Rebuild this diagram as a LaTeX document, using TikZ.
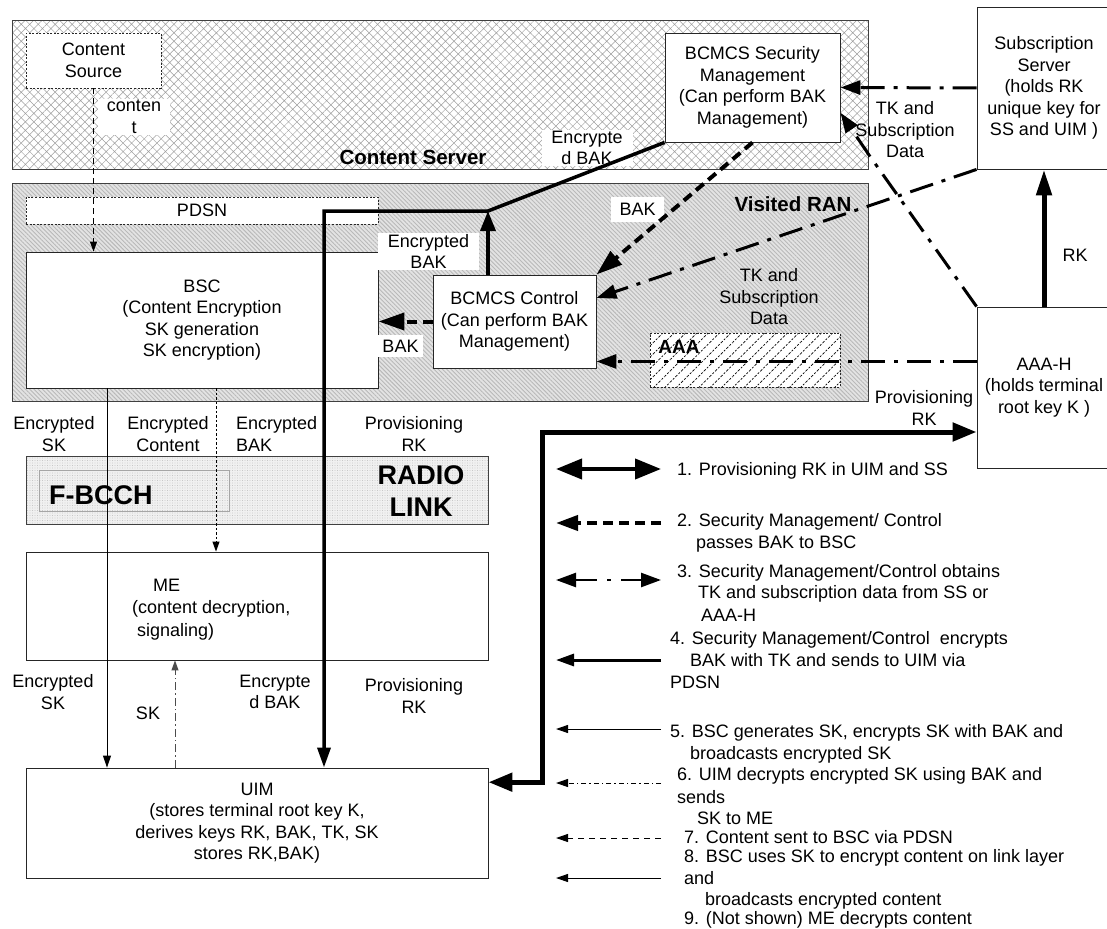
\documentclass[tikz,border=0pt]{standalone}
\usepackage{fontspec}
\setmainfont{Liberation Sans}
\usetikzlibrary{arrows.meta,patterns.meta}
\begin{document}
\begin{tikzpicture}[x=1pt,y=-1pt,
  every node/.style={font=\fontsize{18}{21.5}\selectfont, inner sep=0pt, align=center},
  box/.style={draw=black!85, line width=0.9pt, fill=white},
  dotbox/.style={box, dash pattern=on 2pt off 1.6pt},
  wl/.style={fill=white, inner sep=1pt},
  grp/.style={font=\fontsize{20.5}{24}\selectfont\bfseries},
  bigl/.style={font=\fontsize{27}{32}\selectfont\bfseries},
  lg/.style={anchor=base west, align=left},
  csfill/.style={draw=black!75, line width=1pt, preaction={fill=white},
     preaction={pattern={Hatch[angle=45,distance=6pt,line width=0.5pt]}, pattern color=gray!75}},
  vrfill/.style={draw=black!75, line width=1pt, preaction={fill=gray!22},
     preaction={pattern={Lines[angle=-45,distance=3pt,line width=0.9pt]}, pattern color=gray!55}},
  rlfill/.style={draw=black!75, line width=0.9pt, preaction={fill=gray!12},
     preaction={pattern={Dots[distance=2.5pt,radius=0.45pt]}, pattern color=gray!60}},
  aaafill/.style={draw=black!85, line width=0.9pt, dash pattern=on 2pt off 1.6pt, preaction={fill=white},
     preaction={pattern={Lines[angle=45,distance=8pt,line width=0.7pt]}, pattern color=black}},
  encbak/.style={line width=3.5pt},
  bakd/.style={line width=4pt, dash pattern=on 10pt off 6pt},
  tkdd/.style={line width=3pt, dash pattern=on 24pt off 9pt on 4pt off 9pt},
  prov/.style={line width=5pt},
  thinl/.style={line width=1pt},
  cdash/.style={line width=0.9pt, dash pattern=on 6pt off 4pt},
  cdot/.style={line width=0.9pt, dash pattern=on 2.5pt off 2pt},
  skdd/.style={line width=1pt, draw=black!70, dash pattern=on 8pt off 3pt on 1.5pt off 3pt},
  tbig/.style={-{Triangle[length=24pt,width=18pt]}},
  tmed/.style={-{Triangle[length=20pt,width=14pt]}},
  tsm/.style={-{Triangle[length=12pt,width=8pt]}},
]
\useasboundingbox (0,0) rectangle (1107,928);
\clip (0,0) rectangle (1107,928);
\fill[white] (0,0) rectangle (1107,928);

% ---------- Content Server ----------
\node[csfill, minimum width=856pt, minimum height=149pt] (cs) at (440,95.5) {};
\node[dotbox, minimum width=135pt, minimum height=55pt] (src) at (93.5,60.5) {Content\\Source};
\node[wl, minimum width=72pt] (lcontent) at (134,117) {conten\\t};
\node[grp] (lcs) at (413,157) {Content Server};
\node[box, minimum width=175pt, minimum height=109pt] (sm) at (752.5,87.5) {BCMCS Security\\Management\\(Can perform BAK\\Management)};
\node[box, minimum width=134pt, minimum height=162pt] (ss) at (1044,88) {Subscription\\Server\\(holds RK\\unique key for\\SS and UIM )};
\node[wl, minimum width=91pt] (lencbak1) at (587,148) {Encrypte\\d BAK};
\node (ltk1) at (905,130) {TK and\\Subscription\\Data};

% ---------- Visited RAN ----------
\node[vrfill, minimum width=856pt, minimum height=218pt] (vr) at (440,292) {};
\node[grp] (lvr) at (793,204) {Visited RAN};
\node[dotbox, minimum width=352pt, minimum height=27pt] (pdsn) at (202,210.5) {PDSN};
\node[box, minimum width=352pt, minimum height=136pt] (bsc) at (202,320) {BSC\\(Content Encryption\\SK generation\\SK encryption)};
\node[wl, minimum width=101pt, minimum height=37pt] (lencbak2) at (428.5,251.5) {Encrypted\\BAK};
\node[box, minimum width=163pt, minimum height=93pt] (ctl) at (514.5,321.5) {BCMCS Control\\(Can perform BAK\\Management)};
\node[wl, minimum width=45pt, minimum height=22pt] (lbak1) at (400.5,346) {BAK};
\node[wl, minimum width=53pt, minimum height=25pt] (lbak2) at (637.5,209.5) {BAK};
\node (ltk2) at (769,297) {TK and\\Subscription\\Data};
\node[aaafill, minimum width=190pt, minimum height=54pt] (aaa) at (745,360) {};
\node[font=\fontsize{19}{22}\selectfont\bfseries] (laaa) at (679,347) {AAA};

% ---------- right side ----------
\node[box, minimum width=134pt, minimum height=161pt] (aaah) at (1044,387.5) {AAA-H\\(holds terminal\\root key K )};
\node (lrk) at (1075,255) {RK};
\node (lprov1) at (924,408) {Provisioning\\RK};

% ---------- radio link / terminal ----------
\node (lesk1) at (54,434) {Encrypted\\SK};
\node (lecon) at (168,434) {Encrypted\\Content};
\node[align=left, anchor=west] (lebak) at (236,434) {Encrypted\\BAK};
\node (lprov2) at (414,434) {Provisioning\\RK};
\node[rlfill, minimum width=462pt, minimum height=68pt] (radio) at (257,490) {};
\node[draw=gray!70, line width=0.8pt, minimum width=190pt, minimum height=41pt] (fbcch) at (134,490.5) {};
\node[bigl, anchor=west] (lfb) at (49,495) {F-BCCH};
\node[bigl] (lradio) at (421,491) {RADIO\\LINK};
\node[box, minimum width=462pt, minimum height=108pt] (me) at (257,606) {};
\node[align=left, anchor=north west, font=\fontsize{18}{22.5}\selectfont] (lme) at (132,578.5) {\hspace*{21pt}ME\\(content decryption,\\\hspace*{5pt}signaling)};
\node (lesk2) at (53,692) {Encrypted\\SK};
\node (lsk) at (148,713) {SK};
\node (lencbak3) at (275,692) {Encrypte\\d BAK};
\node (lprov3) at (414,696) {Provisioning\\RK};
\node[box, minimum width=462pt, minimum height=110pt] (uim) at (257,823) {UIM\\(stores terminal root key K,\\derives keys RK, BAK, TK, SK\\stores RK,BAK)};

% ---------- helper coordinates ----------
\coordinate (J) at (488,211);
\coordinate (Jl) at (324,211);
\coordinate (bendA) at (869,155);
\coordinate (PV) at (542,432);
\coordinate (xSK) at (107,0);
\coordinate (xEC) at (216,0);
\coordinate (xSKup) at (175,0);

% ---------- connectors ----------
\draw[cdash, -{Triangle[length=10pt,width=7pt]}] (src.south) -- (src.south |- bsc.north);
\draw[encbak, -{Triangle[length=20pt,width=13pt]}] (sm.south west) -- (J) -- (Jl) -- (Jl |- uim.north);
\draw[encbak, -{Triangle[length=20pt,width=15pt]}] (ctl.north -| J) -- (J);
\draw[bakd, -{Triangle[length=26pt,width=17pt]}] (ctl.west) -- (ctl.west -| bsc.east);
\draw[bakd, -{Triangle[length=26pt,width=17pt]}] (sm.south) -- (ctl.north east);
\draw[tkdd, tmed] (ss.west) -- (sm.east);
\draw[tkdd, tmed] (ss.south west) -- (ctl.16);
\draw[tkdd, tmed] (aaah.north west) -- (bendA) -- (sm.-16);
\draw[tkdd, tmed] (ctl.-26 -| aaah.west) -- (ctl.-26);
\draw[prov, -{Triangle[length=26pt,width=15pt]}] (aaah.north) -- (ss.south);
\draw[prov, {Triangle[length=24pt,width=18pt]}-{Triangle[length=24pt,width=18pt]}] (uim.10) -- (uim.10 -| PV) -- (PV) -- (PV -| aaah.west);
\draw[thinl, tsm] (bsc.south -| xSK) -- (uim.north -| xSK);
\draw[cdot, -{Triangle[length=10pt,width=7pt]}] (bsc.south -| xEC) -- (me.north -| xEC);
\draw[skdd, -{Triangle[length=10pt,width=7pt]}] (uim.north -| xSKup) -- (me.south -| xSKup);

% ---------- legend ----------
\coordinate (g1a) at (556,469); \coordinate (g1b) at (661,469);
\coordinate (g2a) at (661,523); \coordinate (g2b) at (556,523);
\coordinate (g3a) at (556,580); \coordinate (g3b) at (661,580);
\coordinate (g4a) at (661,660); \coordinate (g4b) at (556,660);
\coordinate (g5a) at (661,729); \coordinate (g5b) at (556,729);
\coordinate (g6a) at (661,783); \coordinate (g6b) at (556,783);
\coordinate (g7a) at (661,838); \coordinate (g7b) at (556,838);
\coordinate (g8a) at (661,878); \coordinate (g8b) at (556,878);
\draw[line width=4pt, {Triangle[length=26pt,width=20pt]}-{Triangle[length=26pt,width=20pt]}] (g1a) -- (g1b);
\draw[bakd, -{Triangle[length=22pt,width=15pt]}] (g2a) -- (g2b);
\draw[line width=2.5pt, dash pattern=on 22pt off 10pt on 4pt off 10pt, {Triangle[length=20pt,width=14pt]}-{Triangle[length=20pt,width=14pt]}] (g3a) -- (g3b);
\draw[line width=3pt, -{Triangle[length=18pt,width=12pt]}] (g4a) -- (g4b);
\draw[thinl, tsm] (g5a) -- (g5b);
\draw[thinl, dash pattern=on 5pt off 3pt on 1.5pt off 3pt, tsm] (g6a) -- (g6b);
\draw[thinl, dash pattern=on 6pt off 5pt, tsm] (g7a) -- (g7b);
\draw[thinl, tsm] (g8a) -- (g8b);

\node[lg] (lg1) at (677,475) {1. Provisioning RK in UIM and SS};
\node[lg] (lg2a) at (677,526) {2. Security Management/ Control};
\node[lg] (lg2b) at (696,548) {passes BAK to BSC};
\node[lg] (lg3a) at (677,577) {3. Security Management/Control obtains};
\node[lg] (lg3b) at (698,598) {TK and subscription data from SS or};
\node[lg] (lg3c) at (701,621) {AAA-H};
\node[lg] (lg4a) at (670,644) {4. Security Management/Control\ \ encrypts};
\node[lg] (lg4b) at (690,666) {BAK with TK and sends to UIM via};
\node[lg] (lg4c) at (670,688) {PDSN};
\node[lg] (lg5a) at (670,737) {5. BSC generates SK, encrypts SK with BAK and};
\node[lg] (lg5b) at (690,759) {broadcasts encrypted SK};
\node[lg] (lg6a) at (677,780) {6. UIM decrypts encrypted SK using BAK and};
\node[lg] (lg6b) at (677,803) {sends};
\node[lg] (lg6c) at (697,824) {SK to ME};
\node[lg] (lg7) at (684,843) {7. Content sent to BSC via PDSN};
\node[lg] (lg8a) at (684,862) {8. BSC uses SK to encrypt content on link layer};
\node[lg] (lg8b) at (684,884) {and};
\node[lg] (lg8c) at (705,905) {broadcasts encrypted content};
\node[lg] (lg9) at (684,924) {9. (Not shown) ME decrypts content};
\end{tikzpicture}
\end{document}
